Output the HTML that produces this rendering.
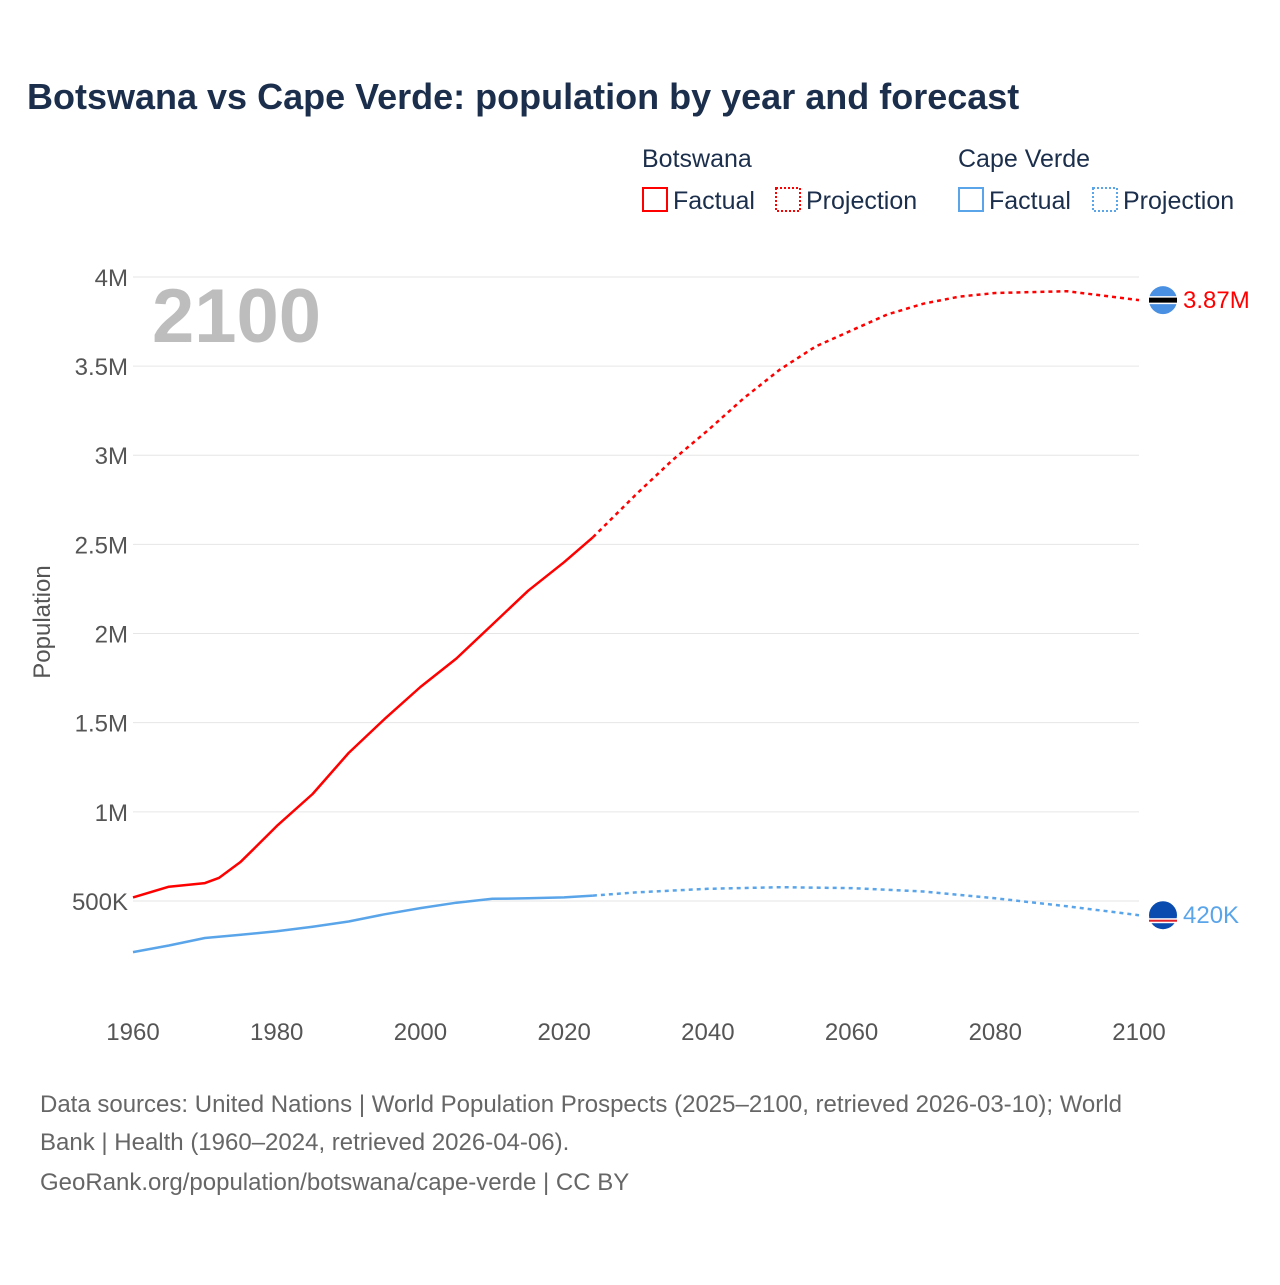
<!DOCTYPE html>
<html><head><meta charset="utf-8"><style>
body{margin:0;background:#fff;font-family:"Liberation Sans",sans-serif;}
svg text{font-family:"Liberation Sans",sans-serif;}
</style></head><body>
<svg id="chart" width="1280" height="1280" viewBox="0 0 1280 1280" xmlns="http://www.w3.org/2000/svg">
<rect width="1280" height="1280" fill="#fff"/>
<text x="27" y="109" font-size="36" font-weight="bold" fill="#1b2e4b">Botswana vs Cape Verde: population by year and forecast</text>
<g font-size="25" fill="#1b2e4b">
<text x="642" y="167">Botswana</text>
<text x="958" y="167">Cape Verde</text>
<g><rect x="643" y="188" width="24" height="23" fill="none" stroke="#f00" stroke-width="2"/><text x="673" y="209">Factual</text></g>
<g><rect x="776" y="188" width="24" height="23" fill="none" stroke="#f00" stroke-width="2" stroke-dasharray="2,2"/><text x="806" y="209">Projection</text></g>
<g><rect x="959" y="188" width="24" height="23" fill="none" stroke="#5aa5ea" stroke-width="2"/><text x="989" y="209">Factual</text></g>
<g><rect x="1093" y="188" width="24" height="23" fill="none" stroke="#5aa5ea" stroke-width="2" stroke-dasharray="2,2"/><text x="1123" y="209">Projection</text></g>
</g>
<g id="grid"></g>
<g id="axes"></g>
<text x="152" y="342" font-size="76" font-weight="bold" fill="#bdbdbd">2100</text>
<text transform="translate(50,622) rotate(-90)" text-anchor="middle" font-size="24" fill="#555">Population</text>
<g id="series"></g>
<g font-size="24" fill="#666">
<text x="40" y="1112">Data sources: United Nations | World Population Prospects (2025–2100, retrieved 2026-03-10); World</text>
<text x="40" y="1150">Bank | Health (1960–2024, retrieved 2026-04-06).</text>
<text x="40" y="1190">GeoRank.org/population/botswana/cape-verde | CC BY</text>
</g>
</svg>
<script>
const yTicks=[500000,1000000,1500000,2000000,2500000,3000000,3500000,4000000];
const yTickLabels=["500K","1M","1.5M","2M","2.5M","3M","3.5M","4M"];
const xTicks=[1960,1980,2000,2020,2040,2060,2080,2100];
const bwFactYears=[1960,1965,1970,1972,1975,1977,1980,1985,1990,1995,2000,2005,2010,2015,2020,2024];
const bwFactValues=[520000,580000,600000,630000,720000,800000,920000,1100000,1330000,1520000,1700000,1860000,2050000,2240000,2400000,2540000];
const bwProjYears=[2024,2030,2035,2040,2045,2050,2055,2060,2065,2070,2075,2080,2090,2100];
const bwProjValues=[2540000,2780000,2970000,3140000,3320000,3480000,3610000,3700000,3790000,3850000,3890000,3910000,3920000,3870000];
const cvFactYears=[1960,1965,1970,1975,1980,1985,1990,1995,2000,2005,2010,2015,2020,2024];
const cvFactValues=[213000,250000,292000,310000,330000,355000,385000,425000,460000,490000,512000,515000,520000,530000];
const cvProjYears=[2024,2030,2040,2050,2060,2070,2080,2090,2100];
const cvProjValues=[530000,548000,568000,577000,572000,553000,515000,470000,420000];
const NS="http://www.w3.org/2000/svg";
function xS(y){return 133+(y-1960)*(1139-133)/140;}
function yS(v){return 990.1-v*(624/3500000);}
function mk(tag,attrs,parent){const e=document.createElementNS(NS,tag);for(const k in attrs)e.setAttribute(k,attrs[k]);parent.appendChild(e);return e;}
const grid=document.getElementById('grid'),axes=document.getElementById('axes'),ser=document.getElementById('series');
yTicks.forEach((t,i)=>{
 const l=mk('line',{x1:133,x2:1139,y1:yS(t),y2:yS(t),stroke:'#e6e6e6','stroke-width':1},grid);
 
 
 const tx=mk('text',{x:128,y:yS(t)+9,'text-anchor':'end','font-size':24,fill:'#555'},axes);
 tx.textContent=yTickLabels[i];
 
 
});
xTicks.forEach(t=>{
 const tx=mk('text',{x:xS(t),y:1040,'text-anchor':'middle','font-size':24,fill:'#555'},axes);
 tx.textContent=t;
 
 
});
function path(xs,vs){return xs.map((x,i)=>(i?'L':'M')+xS(x).toFixed(1)+','+yS(vs[i]).toFixed(1)).join(' ');}
let p;
p=mk('path',{d:path(bwFactYears,bwFactValues),fill:'none',stroke:'#f00','stroke-width':2.5,'stroke-linejoin':'round'},ser);


p=mk('path',{d:path(bwProjYears,bwProjValues),fill:'none',stroke:'#f00','stroke-width':2.5,'stroke-dasharray':'4,4'},ser);


p=mk('path',{d:path(cvFactYears,cvFactValues),fill:'none',stroke:'#5aa5ea','stroke-width':2.5,'stroke-linejoin':'round'},ser);


p=mk('path',{d:path(cvProjYears,cvProjValues),fill:'none',stroke:'#5aa5ea','stroke-width':2.5,'stroke-dasharray':'4,4'},ser);


const bwY=yS(bwProjValues[bwProjValues.length-1]), cvY=yS(cvProjValues[cvProjValues.length-1]);
let g=mk('g',{},ser);


mk('circle',{cx:1163,cy:bwY,r:14,fill:'#4a90e2'},g);
mk('rect',{x:1149,y:bwY-4,width:28,height:8,fill:'#fff'},g);
mk('rect',{x:1149,y:bwY-2.5,width:28,height:5,fill:'#000'},g);
g=mk('g',{},ser);


mk('circle',{cx:1163,cy:cvY,r:14,fill:'#0a4bb0'},g);
mk('rect',{x:1149,y:cvY+3,width:28,height:5,fill:'#fff'},g);
mk('rect',{x:1149,y:cvY+4.5,width:28,height:2,fill:'#e0202a'},g);
let t=mk('text',{x:1183,y:bwY+8,'font-size':24,fill:'#f00'},ser);
t.textContent='3.87M';


t=mk('text',{x:1183,y:cvY+8,'font-size':24,fill:'#5aa5ea'},ser);
t.textContent='420K';


</script>
</body></html>
